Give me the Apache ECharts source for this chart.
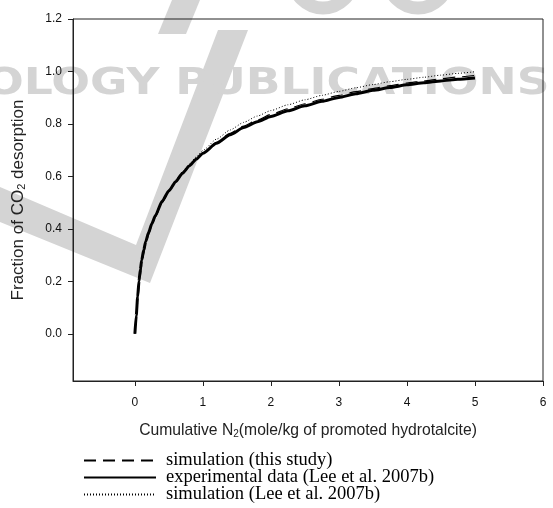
<!DOCTYPE html>
<html>
<head>
<meta charset="utf-8">
<script src="https://cdn.jsdelivr.net/npm/echarts@6/dist/echarts.min.js"></script>
<style>
  html, body { margin: 0; padding: 0; background: #fff; }
  #chart { width: 553px; height: 508px; }
</style>
</head>
<body>
<div id="chart"></div>
<script>
// Cumulative N2 fed (mole/kg of promoted hydrotalcite)
const nitrogenFed = [0, 0.02, 0.04, 0.06, 0.08, 0.1, 0.13, 0.16, 0.2, 0.25, 0.3, 0.4, 0.5, 0.6, 0.7, 0.8, 0.9, 1.0,
  1.2, 1.4, 1.6, 1.8, 2.0, 2.25, 2.5, 2.75, 3.0, 3.25, 3.5, 3.75, 4.0, 4.25, 4.5, 4.75, 5.0];
// Fraction of CO2 desorbed
const simThisStudy = [0, 0.06, 0.12, 0.175, 0.22, 0.26, 0.305, 0.34, 0.377, 0.414, 0.445, 0.5, 0.542, 0.578, 0.61, 0.639, 0.665, 0.689,
  0.73, 0.764, 0.792, 0.815, 0.836, 0.858, 0.877, 0.894, 0.909, 0.923, 0.935, 0.946, 0.956, 0.964, 0.972, 0.979, 0.985];
const experimental = [0, 0.07, 0.14, 0.2, 0.245, 0.28, 0.32, 0.352, 0.385, 0.42, 0.45, 0.505, 0.545, 0.58, 0.612, 0.64, 0.665, 0.688,
  0.726, 0.759, 0.786, 0.808, 0.828, 0.85, 0.869, 0.886, 0.901, 0.915, 0.928, 0.939, 0.949, 0.957, 0.964, 0.97, 0.975];
const simLee = [0, 0.065, 0.13, 0.185, 0.232, 0.27, 0.315, 0.35, 0.386, 0.422, 0.453, 0.508, 0.55, 0.586, 0.618, 0.647, 0.674, 0.699,
  0.742, 0.777, 0.806, 0.83, 0.851, 0.873, 0.892, 0.909, 0.924, 0.938, 0.95, 0.961, 0.97, 0.978, 0.986, 0.993, 0.999];

const xTicks = [0, 1, 2, 3, 4, 5, 6];
const yTicks = [0, 0.2, 0.4, 0.6, 0.8, 1.0, 1.2];

const seriesNames = [
  'simulation (this study)',
  'experimental data (Lee et al. 2007b)',
  'simulation (Lee et al. 2007b)'
];

const pairs = (ys) => nitrogenFed.map((x, i) => [x, ys[i]]);

const sans = 'Liberation Sans, Arial, sans-serif';
const axisFont = { fontFamily: sans, fontSize: 12, color: '#111' };
const grey = '#d4d4d4';

// light publisher mark behind the plot
const backdrop = [
  {
    type: 'polygon', z: -10, silent: true,
    shape: { points: [[0, 187], [136, 245], [218, 30], [248, 30], [150, 283], [0, 222]] },
    style: { fill: grey }
  },
  {
    type: 'polygon', z: -10, silent: true,
    shape: { points: [[172, 0], [200, 0], [186, 34], [158, 34]] },
    style: { fill: grey }
  },
  {
    type: 'circle', z: -10, silent: true,
    shape: { cx: 323, cy: -22, r: 30 },
    style: { fill: 'none', stroke: grey, lineWidth: 13 }
  },
  {
    type: 'circle', z: -10, silent: true,
    shape: { cx: 418, cy: -22, r: 30 },
    style: { fill: 'none', stroke: grey, lineWidth: 13 }
  },
  {
    type: 'text', z: -10, silent: true,
    x: -15, y: 84, scaleX: 1.2,
    style: {
      text: 'OLOGY PUBLICATIONS', fill: grey,
      font: 'bold 38px "DejaVu Sans", sans-serif',
      verticalAlign: 'middle'
    }
  }
];

const chart = echarts.init(document.getElementById('chart'));
chart.setOption({
  animation: false,
  backgroundColor: '#fff',
  grid: {
    left: 73, right: 10, top: 19, bottom: 127,
    show: true, borderColor: '#222', borderWidth: 1, backgroundColor: 'transparent'
  },
  graphic: backdrop,
  legend: {
    orient: 'vertical', left: 83, top: 451, padding: 0,
    itemWidth: 72, itemHeight: 12, itemGap: -2,
    itemStyle: { opacity: 0 },
    textStyle: { fontFamily: 'Liberation Serif, Times New Roman, serif', fontSize: 18.5, lineHeight: 17, color: '#000', padding: [0, 0, 0, 5] },
    data: seriesNames
  },
  xAxis: {
    type: 'value', min: -0.91, max: 6,
    name: 'Cumulative N{sub|2}(mole/kg of promoted hydrotalcite)',
    nameLocation: 'middle', nameGap: 41,
    nameTextStyle: {
      fontFamily: sans, fontSize: 15.7, color: '#222',
      rich: { sub: { fontFamily: sans, fontSize: 10, color: '#222', verticalAlign: 'bottom', padding: [7, 0, 0, 0] } }
    },
    splitLine: { show: false },
    axisLine: { onZero: false, lineStyle: { color: '#222', width: 1 } },
    axisTick: { show: true, length: 5, inside: false, customValues: xTicks, lineStyle: { color: '#222' } },
    axisLabel: { ...axisFont, margin: 16, customValues: xTicks, formatter: (v) => String(v) }
  },
  yAxis: {
    type: 'value', min: -0.18, max: 1.2,
    name: 'Fraction of CO{sub|2} desorption',
    nameLocation: 'middle', nameGap: 46, nameRotate: 90,
    nameTextStyle: {
      fontFamily: sans, fontSize: 17, color: '#222',
      rich: { sub: { fontFamily: sans, fontSize: 11, color: '#222', verticalAlign: 'bottom', padding: [7, 0, 0, 0] } }
    },
    splitLine: { show: false },
    axisLine: { show: true, onZero: false, lineStyle: { color: '#222', width: 1 } },
    axisTick: { show: true, length: 5, inside: false, customValues: yTicks, lineStyle: { color: '#222' } },
    axisLabel: { ...axisFont, margin: 11, customValues: yTicks, formatter: (v) => v.toFixed(1) }
  },
  series: [
    {
      name: seriesNames[0], type: 'line', data: pairs(simThisStudy),
      smooth: 0.2, smoothMonotone: 'x', symbol: 'none', z: 3,
      lineStyle: { color: '#000', width: 1.2, type: [12, 7] },
      itemStyle: { color: '#000' }
    },
    {
      name: seriesNames[1], type: 'line', data: pairs(experimental),
      smooth: 0.2, smoothMonotone: 'x', symbol: 'none', z: 2,
      lineStyle: { color: '#000', width: 3 },
      itemStyle: { color: '#000' }
    },
    {
      name: seriesNames[2], type: 'line', data: pairs(simLee),
      smooth: 0.2, smoothMonotone: 'x', symbol: 'none', z: 3,
      lineStyle: { color: '#000', width: 1, type: [1, 2] },
      itemStyle: { color: '#000' }
    }
  ]
});
</script>
</body>
</html>
